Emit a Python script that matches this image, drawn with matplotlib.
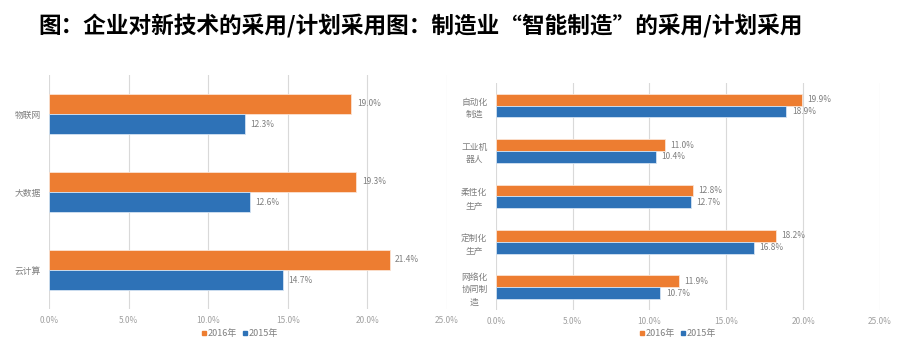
import matplotlib
matplotlib.use("Agg")
import matplotlib.pyplot as plt
from matplotlib.lines import Line2D
from matplotlib.ticker import FuncFormatter

plt.rcParams['font.family'] = ['Noto Sans CJK SC', 'DejaVu Sans']

# 企业对新技术的采用/计划采用
tech_labels = ['物联网', '大数据', '云计算']
tech_2016 = [19.0, 19.3, 21.4]
tech_2015 = [12.3, 12.6, 14.7]

# 制造业“智能制造”的采用/计划采用
mfg_labels = ['自动化\n制造', '工业机\n器人', '柔性化\n生产', '定制化\n生产', '网络化\n协同制\n造']
mfg_2016 = [19.9, 11.0, 12.8, 18.2, 11.9]
mfg_2015 = [18.9, 10.4, 12.7, 16.8, 10.7]

years = ['2016年', '2015年']
ORANGE = '#ED7D31'
BLUE = '#2E72B7'
GRID = '#d9d9d9'
TICK = '#a0a0a0'
LABEL = '#7f7f7f'


def draw_panel(fig, ax, labels, v16, v15, legend_x):
    h = 0.26
    pos = list(range(len(labels)))
    b16 = ax.barh([p - h / 2 for p in pos], v16, height=h, color=ORANGE,
                  edgecolor='#fbe3d2', linewidth=0.6, zorder=3)
    b15 = ax.barh([p + h / 2 for p in pos], v15, height=h, color=BLUE,
                  edgecolor='#d3e2f2', linewidth=0.6, zorder=3)
    for bars in (b16, b15):
        ax.bar_label(bars, labels=[f'{b.get_width():.1f}%' for b in bars],
                     padding=4, fontsize=6, color=LABEL)
    ax.set_xlim(0, 25)
    ax.set_ylim(len(labels) - 0.5, -0.5)
    ax.set_xticks([0, 5, 10, 15, 20, 25])
    ax.xaxis.set_major_formatter(FuncFormatter(lambda x, _: f'{x:.1f}%'))
    ax.set_yticks(pos)
    ax.set_yticklabels(labels, fontsize=6.3, color=LABEL, linespacing=1.45,
                       multialignment='center')
    ax.tick_params(axis='x', length=0, labelsize=6, labelcolor=TICK, pad=5)
    ax.tick_params(axis='y', length=0, pad=6)
    ax.grid(axis='x', color=GRID, linewidth=0.8, zorder=0)
    ax.set_axisbelow(True)
    for s in ax.spines.values():
        s.set_visible(False)
    handles = [Line2D([], [], marker='s', linestyle='', color=c, markersize=3.5)
               for c in (ORANGE, BLUE)]
    ax.legend(handles, years, loc='center', bbox_to_anchor=(legend_x, 0.027),
              bbox_transform=fig.transFigure, ncol=2, frameon=False,
              fontsize=6.5, handlelength=0.6, handletextpad=0.1,
              columnspacing=0.6, labelcolor=LABEL, borderpad=0)


fig = plt.figure(figsize=(9.02, 3.43), dpi=100)
ax1 = fig.add_axes([0.0543, 0.0991, 0.4412, 0.682])
ax2 = fig.add_axes([0.5496, 0.0962, 0.4261, 0.662])
draw_panel(fig, ax1, tech_labels, tech_2016, tech_2015, 240 / 902)
draw_panel(fig, ax2, mfg_labels, mfg_2016, mfg_2015, 678 / 902)

fig.text(0.042, 0.927, '图：企业对新技术的采用/计划采用图：制造业“智能制造”的采用/计划采用',
         fontsize=16.3, fontweight='heavy', color='black', va='center', ha='left')

fig.savefig('out.png', dpi=100)
